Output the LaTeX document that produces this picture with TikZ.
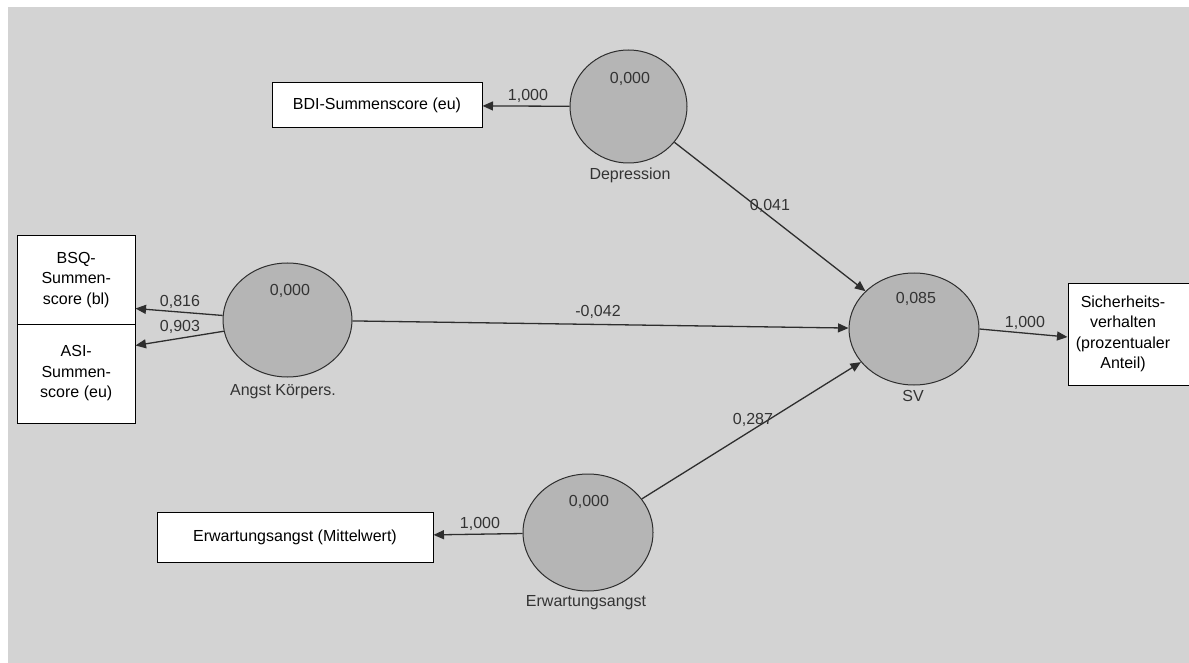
\documentclass[tikz,border=0pt]{standalone}
\usepackage{fontspec}
\setmainfont{Liberation Sans}
\usetikzlibrary{shapes.geometric,arrows.meta,calc}
\definecolor{bggray}{HTML}{D3D3D3}
\definecolor{latfill}{HTML}{B5B5B5}
\definecolor{linegray}{HTML}{2E2E2E}
\definecolor{labgray}{HTML}{333333}
\tikzset{
  latent/.style={ellipse, draw=linegray, line width=1pt, fill=latfill, inner sep=0pt},
  indbox/.style={rectangle, draw=black, line width=1pt, fill=white, inner sep=0pt, align=center},
  conn/.style={draw=linegray, line width=1.3pt, -{Triangle[length=10.5pt,width=9pt]}},
  lab/.style={text=labgray, inner sep=0pt},
}
\begin{document}
\begin{tikzpicture}[x=1pt, y=-1pt, font=\fontsize{16}{20.5}\selectfont]
\clip (0,0) rectangle (1189,663);
\fill[bggray] (8,7) rectangle (1195,670);
% latent variables
\node[latent, minimum width=117pt, minimum height=113pt] (dep) at (628.5,106.5) {};
\node[latent, minimum width=129pt, minimum height=114pt] (ak) at (287.5,320) {};
\node[latent, minimum width=130pt, minimum height=112pt] (sv) at (914,329) {};
\node[latent, minimum width=130pt, minimum height=117pt] (erw) at (588,532.5) {};
% R2 values
\node[lab] (depv) at (630,79) {0,000};
\node[lab] (akv) at (290,291) {0,000};
\node[lab] (svv) at (916,299) {0,085};
\node[lab] (erwv) at (589,502) {0,000};
% latent names
\node[lab] (depn) at (630,175) {Depression};
\node[lab] (akn) at (283,391.5) {Angst Körpers.};
\node[lab] (svn) at (913,396) {SV};
\node[lab] (erwn) at (586,603) {Erwartungsangst};
% indicators
\node[indbox, minimum width=210pt, minimum height=45pt] (bdi) at (377,105.5) {BDI-Summenscore (eu)};
\node[indbox, minimum width=117.5pt, minimum height=88pt] (bsq) at (76.25,280) {BSQ-\\Summen-\\score (bl)};
\node[indbox, minimum width=117.5pt, minimum height=99pt] (asi) at (76.25,373.5) {ASI-\\Summen-\\score (eu)};
\node[indbox, minimum width=124pt, minimum height=102pt] (sich) at (1130,334) {};
\node[align=center, inner sep=0pt] (sicht) at (1123,334) {Sicherheits-\\verhalten\\(prozentualer\\Anteil)};
\node[indbox, minimum width=276pt, minimum height=50pt] (erwb) at (295,537) {Erwartungsangst (Mittelwert)};
% connectors
\draw[conn] (dep) -- (bdi);
\draw[conn] (ak.176) -- ($(bsq.south east)+(0,-16)$);
\draw[conn] (ak.190) -- ($(asi.north east)+(0,22)$);
\draw[conn] (dep) -- (sv);
\draw[conn] (ak) -- (sv);
\draw[conn] (erw) -- (sv);
\draw[conn] (sv.east) -- ($(sich.west)+(0,3)$);
\draw[conn] (erw) -- (erwb);
% path coefficients
\node[lab] (l1) at (528,96) {1,000};
\node[lab] (l2) at (180,302) {0,816};
\node[lab] (l3) at (180,327) {0,903};
\node[lab] (l4) at (770,206) {0,041};
\node[lab] (l5) at (598,312) {-0,042};
\node[lab] (l6) at (753,420) {0,287};
\node[lab] (l7) at (1025,323) {1,000};
\node[lab] (l8) at (480,524) {1,000};
\end{tikzpicture}
\end{document}
